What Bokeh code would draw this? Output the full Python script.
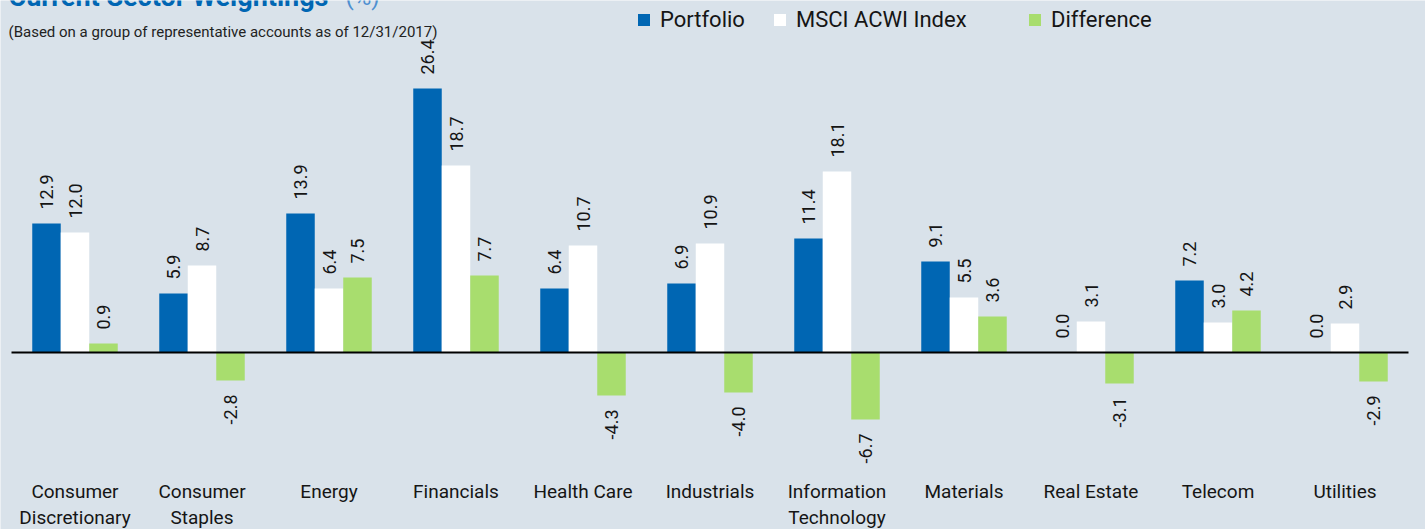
import math
from bokeh.plotting import figure
from bokeh.models import ColumnDataSource, Range1d, Label, Legend, LegendItem
from bokeh.core.properties import value
from bokeh.embed import file_html
from bokeh.resources import INLINE

categories = ["Consumer\nDiscretionary", "Consumer\nStaples", "Energy", "Financials",
              "Health Care", "Industrials", "Information\nTechnology", "Materials",
              "Real Estate", "Telecom", "Utilities"]
portfolio = [12.9, 5.9, 13.9, 26.4, 6.4, 6.9, 11.4, 9.1, 0.0, 7.2, 0.0]
msci_acwi = [12.0, 8.7, 6.4, 18.7, 10.7, 10.9, 18.1, 5.5, 3.1, 3.0, 2.9]
difference = [0.9, -2.8, 7.5, 7.7, -4.3, -4.0, -6.7, 3.6, -3.1, 4.2, -2.9]
series_names = ["Portfolio", "MSCI ACWI Index", "Difference"]

BG = "#d9e2ea"
BLUE = "#0066b3"
GREEN = "#a8dd6e"
WHITE = "#ffffff"
TXT = "#151515"
colors = [BLUE, WHITE, GREEN]
FONT = "Roboto"

W, H = 1425, 529
n = len(categories)
p = figure(width=W, height=H, output_backend="svg", toolbar_location=None,
           x_range=Range1d(-0.5 - 11 / 127, -0.5 + (W - 11) / 127),
           y_range=Range1d(-17.7, 35.2),
           x_axis_location=None, y_axis_location=None, min_border=0)
p.background_fill_color = BG
p.border_fill_color = BG
p.outline_line_color = None
p.xgrid.visible = False
p.ygrid.visible = False

bw = 0.2244
offsets = [-bw, 0.0, bw]
renderers = []
for vals, off, col in zip([portfolio, msci_acwi, difference], offsets, colors):
    xs = [i + off for i in range(n)]
    src = ColumnDataSource(dict(x=xs, top=vals))
    r = p.vbar(x="x", top="top", bottom=0, width=bw, source=src,
               fill_color=col, line_color=None)
    renderers.append(r)
    pos = [(x, v) for x, v in zip(xs, vals) if v >= 0]
    neg = [(x, v) for x, v in zip(xs, vals) if v < 0]
    if pos:
        p.text(x=[a for a, _ in pos], y=[b for _, b in pos],
               text=[f"{b:.1f}" for _, b in pos], angle=math.pi / 2,
               y_offset=-14, text_align="left", text_baseline="middle",
               text_font=value(FONT), text_font_size="18px", text_color=TXT)
    if neg:
        p.text(x=[a for a, _ in neg], y=[b for _, b in neg],
               text=[f"{b:.1f}" for _, b in neg], angle=math.pi / 2,
               y_offset=14, text_align="right", text_baseline="middle",
               text_font=value(FONT), text_font_size="18px", text_color=TXT)

# zero line
p.segment(x0=[-0.5], y0=[0], x1=[n - 0.5], y1=[0], line_color="#000000", line_width=2)

# category labels
p.text(x=list(range(n)), y=[0] * n, text=categories, y_offset=127,
       text_align="center", text_baseline="top", text_line_height=1.15,
       text_font=value(FONT), text_font_size="19px", text_color=TXT)

# title / subtitle
p.add_layout(Label(x=8, y=H + 4, x_units="screen", y_units="screen",
                   text="Current Sector Weightings", text_font=FONT,
                   text_font_style="bold", text_font_size="27px", text_color=BLUE,
                   text_baseline="alphabetic"))
p.add_layout(Label(x=345, y=H + 4, x_units="screen", y_units="screen",
                   text="(%)", text_font=FONT, text_font_size="24px",
                   text_color="#4d8fd0", text_baseline="alphabetic"))
p.add_layout(Label(x=8, y=H - 31, x_units="screen", y_units="screen",
                   text="(Based on a group of representative accounts as of 12/31/2017)",
                   text_font=FONT, text_font_size="15px", text_color="#222222",
                   text_baseline="middle"))

legend_style = dict(orientation="horizontal", glyph_width=15, glyph_height=15,
                    label_standoff=9, spacing=27, label_text_font=FONT,
                    label_text_font_size="22px", label_text_color=TXT,
                    background_fill_alpha=0, border_line_color=None,
                    padding=0, margin=0, label_height=22)
items = [LegendItem(label=nm, renderers=[r]) for nm, r in zip(series_names, renderers)]
p.add_layout(Legend(items=items[:2], location=(636, H - 32), **legend_style))
p.add_layout(Legend(items=items[2:], location=(1027, H - 32), **legend_style))

open("out.html", "w").write(file_html(p, INLINE))
